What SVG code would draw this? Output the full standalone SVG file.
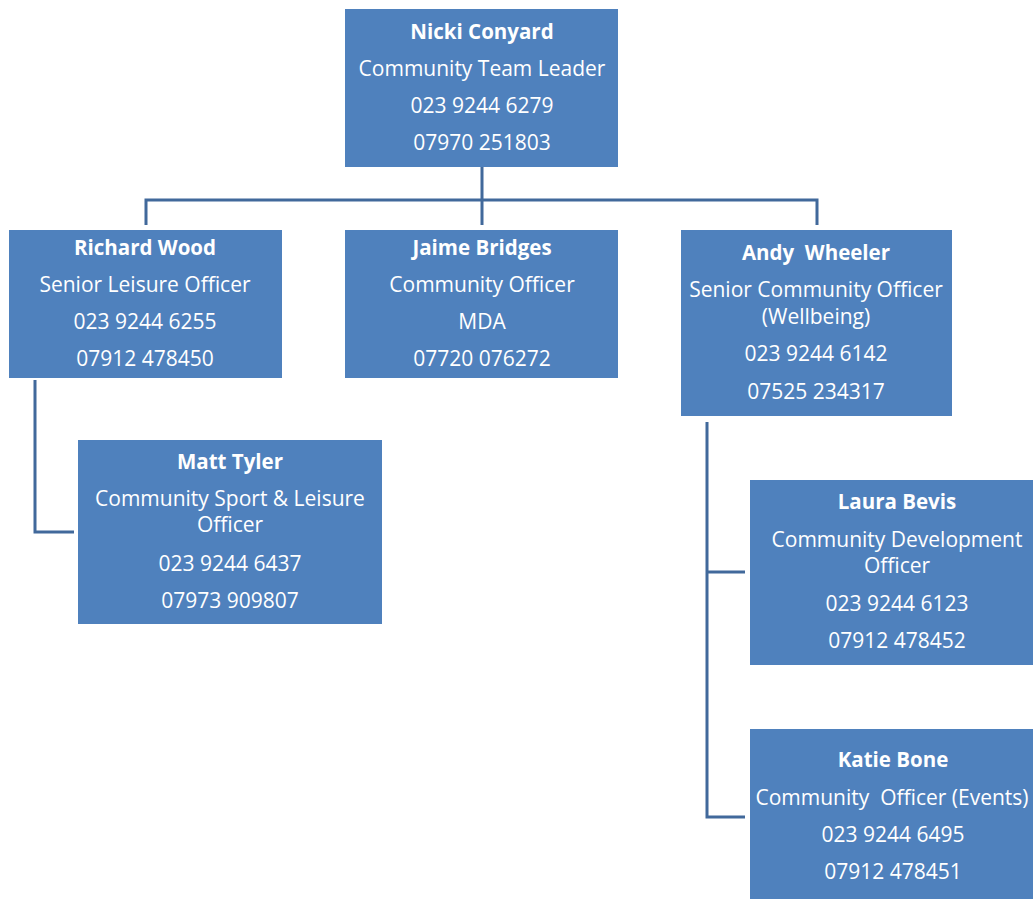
<svg xmlns="http://www.w3.org/2000/svg" width="1033" height="899" viewBox="0 0 1033 899">
<style>
.box{fill:#4F81BD}
.t{font-family:"Open Sans","Liberation Sans",sans-serif;font-size:21px;fill:#fff;text-anchor:middle}
.b{font-weight:bold;font-size:20.5px}
.c{stroke:#41699B;stroke-width:3;fill:none}
</style>
<rect width="1033" height="899" fill="#fff"/>
<g id="connectors">
<path class="c" d="M482 167V225M146 225V200H817V225"/>
<path class="c" d="M35 380V532H74"/>
<path class="c" d="M707 422V817H745M707 572H745"/>
</g>
<g id="nicki">
<rect class="box" x="345" y="9" width="273" height="158"/>
<text class="t b" x="482" y="39">Nicki Conyard</text>
<text class="t" x="482" y="76">Community Team Leader</text>
<text class="t" x="482" y="113">023 9244 6279</text>
<text class="t" x="482" y="150">07970 251803</text>
</g>
<g id="richard">
<rect class="box" x="9" y="230" width="273" height="148"/>
<text class="t b" x="145" y="255">Richard Wood</text>
<text class="t" x="145" y="292">Senior Leisure Officer</text>
<text class="t" x="145" y="329">023 9244 6255</text>
<text class="t" x="145" y="366">07912 478450</text>
</g>
<g id="jaime">
<rect class="box" x="345" y="230" width="273" height="148"/>
<text class="t b" x="482" y="255">Jaime Bridges</text>
<text class="t" x="482" y="292">Community Officer</text>
<text class="t" x="482" y="329">MDA</text>
<text class="t" x="482" y="366">07720 076272</text>
</g>
<g id="andy">
<rect class="box" x="681" y="230" width="271" height="186"/>
<text class="t b" x="816" y="260" xml:space="preserve">Andy  Wheeler</text>
<text class="t" x="816" y="297">Senior Community Officer</text>
<text class="t" x="816" y="324">(Wellbeing)</text>
<text class="t" x="816" y="361">023 9244 6142</text>
<text class="t" x="816" y="399">07525 234317</text>
</g>
<g id="matt">
<rect class="box" x="78" y="440" width="304" height="184"/>
<text class="t b" x="230" y="469">Matt Tyler</text>
<text class="t" x="230" y="506">Community Sport &amp; Leisure</text>
<text class="t" x="230" y="532">Officer</text>
<text class="t" x="230" y="571">023 9244 6437</text>
<text class="t" x="230" y="608">07973 909807</text>
</g>
<g id="laura">
<rect class="box" x="750" y="480" width="283" height="185"/>
<text class="t b" x="897" y="509">Laura Bevis</text>
<text class="t" x="897" y="547">Community Development</text>
<text class="t" x="897" y="573">Officer</text>
<text class="t" x="897" y="611">023 9244 6123</text>
<text class="t" x="897" y="648">07912 478452</text>
</g>
<g id="katie">
<rect class="box" x="750" y="729" width="283" height="170"/>
<text class="t b" x="893" y="767">Katie Bone</text>
<text class="t" x="892" y="805" xml:space="preserve">Community  Officer (Events)</text>
<text class="t" x="893" y="842">023 9244 6495</text>
<text class="t" x="893" y="879">07912 478451</text>
</g>
</svg>
